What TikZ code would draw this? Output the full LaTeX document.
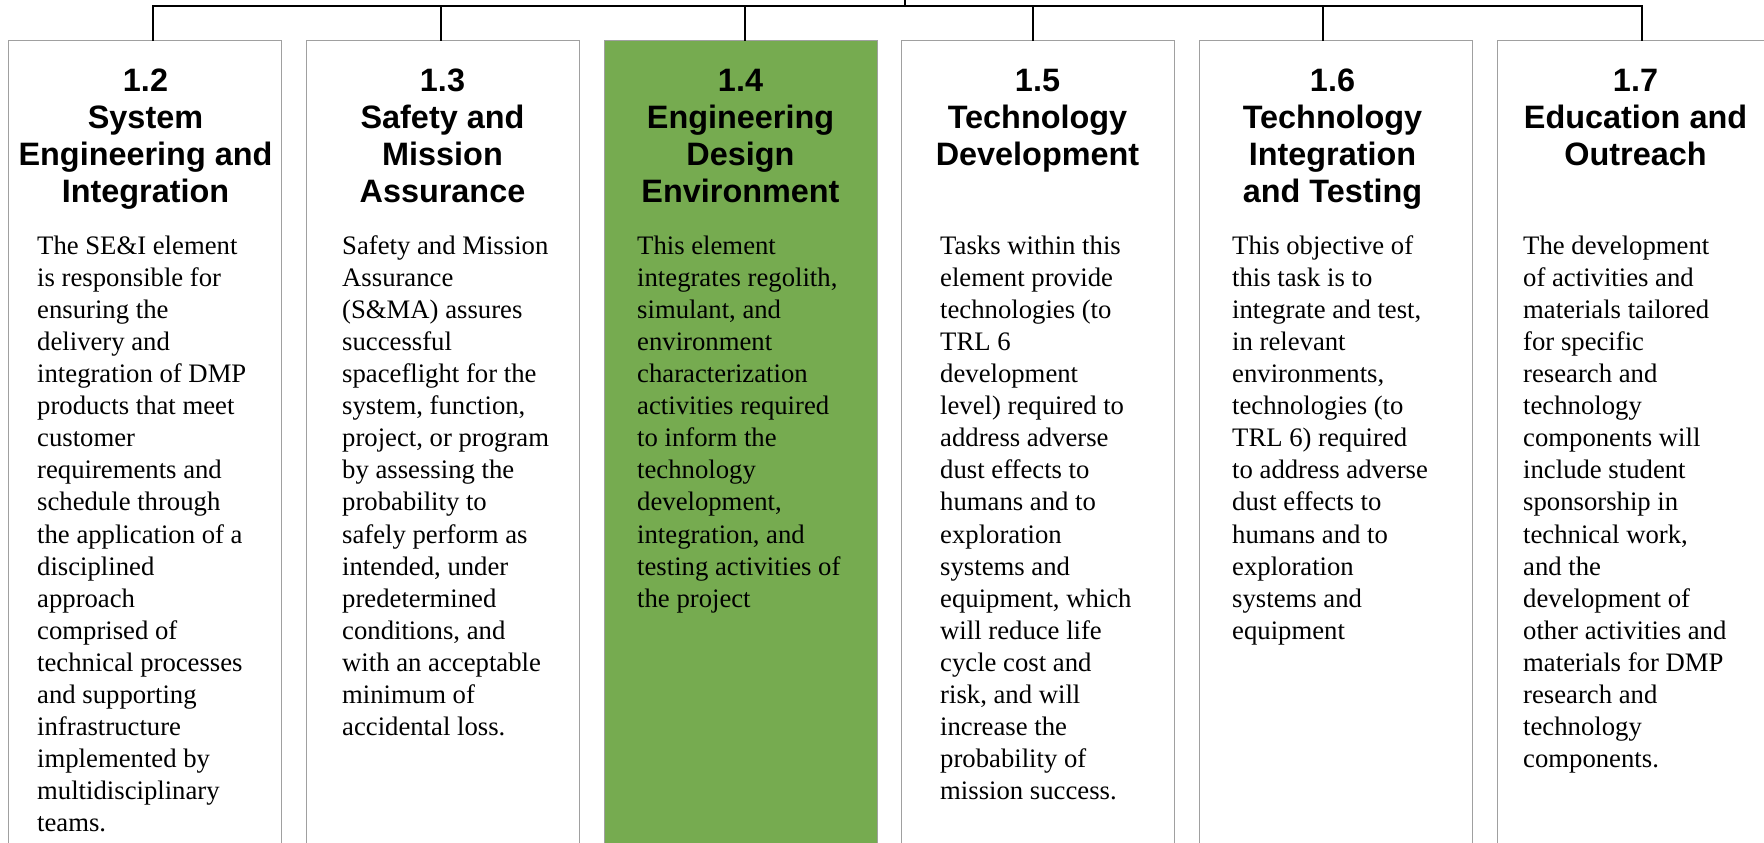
\documentclass[tikz,border=0pt]{standalone}
\usepackage{fontspec}
\setmainfont{Liberation Serif}
\newfontfamily\titlefont{Liberation Sans}
\definecolor{boxgray}{RGB}{160,160,160}
\definecolor{wbsgreen}{RGB}{118,171,80}
\begin{document}
\begin{tikzpicture}[x=1pt,y=-1pt,
  wbs/.style={draw=boxgray, line width=1pt, minimum width=273pt, minimum height=830pt, anchor=north west, inner sep=0pt, outer sep=0pt},
  ttl/.style={anchor=north, align=center, inner sep=0pt, font=\titlefont\bfseries\fontsize{32.4}{37}\selectfont},
  bdy/.style={anchor=north west, align=left, inner sep=0pt, font=\fontsize{26.7}{32.1}\selectfont},
  conn/.style={draw=black, line width=1.6pt}]
\useasboundingbox (0,0) rectangle (1764,843);
\clip (0,0) rectangle (1764,843);
\fill[white] (0,0) rectangle (1764,843);

% boxes
\node[wbs] (b1) at (8,40.7) {};
\node[wbs] (b2) at (306,40.7) {};
\node[wbs, fill=wbsgreen] (b3) at (604,40.7) {};
\node[wbs] (b4) at (901,40.7) {};
\node[wbs] (b5) at (1199,40.7) {};
\node[wbs] (b6) at (1497,40.7) {};

% connectors
\coordinate (c1) at (153,6);
\coordinate (c2) at (441,6);
\coordinate (c3) at (745,6);
\coordinate (c4) at (1033,6);
\coordinate (c5) at (1323,6);
\coordinate (c6) at (1642,6);
\coordinate (top) at (905,0);
\draw[conn] (c1 |- b1.north) -- (c1) -- (c6) -- (c6 |- b6.north);
\draw[conn] (c2) -- (c2 |- b2.north);
\draw[conn] (c3) -- (c3 |- b3.north);
\draw[conn] (c4) -- (c4 |- b4.north);
\draw[conn] (c5) -- (c5 |- b5.north);
\draw[conn] (top) -- (top |- c1);

% titles
\node[ttl] (t1) at ([xshift=1pt]b1.north |- 0,69) {1.2\\System\\Engineering and\\Integration};
\node[ttl] (t2) at (b2.north |- 0,69) {1.3\\Safety and\\Mission\\Assurance};
\node[ttl] (t3) at (b3.north |- 0,69) {1.4\\Engineering\\Design\\Environment};
\node[ttl] (t4) at (b4.north |- 0,69) {1.5\\Technology\\Development};
\node[ttl] (t5) at ([xshift=-3pt]b5.north |- 0,69) {1.6\\Technology\\Integration\\and Testing};
\node[ttl] (t6) at ([xshift=2pt]b6.north |- 0,69) {1.7\\Education and\\Outreach};

% bodies
\node[bdy] (d1) at (37,231.5) {\strut The SE\&I element\\is responsible for\\ensuring the\\delivery and\\integration of DMP\\products that meet\\customer\\requirements and\\schedule through\\the application of a\\disciplined\\approach\\comprised of\\technical processes\\and supporting\\infrastructure\\implemented by\\multidisciplinary\\teams.};
\node[bdy] (d2) at (342,231.5) {\strut Safety and Mission\\Assurance\\(S\&MA) assures\\successful\\spaceflight for the\\system, function,\\project, or program\\by assessing the\\probability to\\safely perform as\\intended, under\\predetermined\\conditions, and\\with an acceptable\\minimum of\\accidental loss.};
\node[bdy] (d3) at (637,231.5) {\strut This element\\integrates regolith,\\simulant, and\\environment\\characterization\\activities required\\to inform the\\technology\\development,\\integration, and\\testing activities of\\the project};
\node[bdy] (d4) at (940,231.5) {\strut Tasks within this\\element provide\\technologies (to\\TRL 6\\development\\level) required to\\address adverse\\dust effects to\\humans and to\\exploration\\systems and\\equipment, which\\will reduce life\\cycle cost and\\risk, and will\\increase the\\probability of\\mission success.};
\node[bdy] (d5) at (1232,231.5) {\strut This objective of\\this task is to\\integrate and test,\\in relevant\\environments,\\technologies (to\\TRL 6) required\\to address adverse\\dust effects to\\humans and to\\exploration\\systems and\\equipment};
\node[bdy] (d6) at (1523,231.5) {\strut The development\\of activities and\\materials tailored\\for specific\\research and\\technology\\components will\\include student\\sponsorship in\\technical work,\\and the\\development of\\other activities and\\materials for DMP\\research and\\technology\\components.};
\end{tikzpicture}
\end{document}
